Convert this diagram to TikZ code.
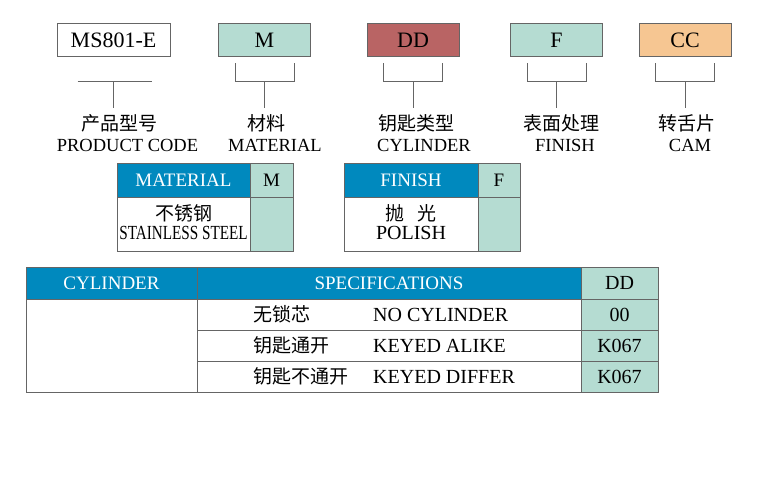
\documentclass[tikz,border=0pt]{standalone}
\usepackage{fontspec}
\setmainfont{Liberation Serif}
\newfontfamily\cjk{Noto Sans CJK SC}
\usetikzlibrary{positioning, calc}
\definecolor{hdblue}{HTML}{0089BE}
\definecolor{mint}{HTML}{B5DCD2}
\definecolor{rust}{HTML}{B96464}
\definecolor{peach}{HTML}{F6C692}
\definecolor{rule}{HTML}{656565}
\tikzset{
    %Define style for the code boxes
    codebox/.style={
           rectangle,
           draw=rule, line width=1pt,
           minimum width=92pt,
           minimum height=33pt,
           inner sep=0pt,
           font=\fontsize{22}{24}\selectfont},
    % Define bracket style
    brk/.style={
           draw=rule,
           line width=1pt},
    % Define label styles
    zhlabel/.style={
           font=\cjk\fontsize{19}{21}\selectfont,
           inner xsep=0pt, inner ysep=8pt,
           text height=14pt, text depth=0pt},
    enlabel/.style={
           font=\fontsize{18.5}{20}\selectfont,
           inner sep=0pt},
    % Define table styles
    cell/.style={
           rectangle,
           draw=rule, line width=1pt,
           inner sep=0pt, outer sep=0pt,
           font=\fontsize{19}{21}\selectfont},
    head/.style={
           cell,
           fill=hdblue,
           text=white},
    zhtext/.style={
           font=\cjk\fontsize{19}{21}\selectfont,
           inner sep=0pt,
           text height=14pt, text depth=0pt},
    entext/.style={
           font=\fontsize{20}{22}\selectfont,
           inner sep=0pt,
           text height=13.2pt, text depth=0pt}
}
\begin{document}
\begin{tikzpicture}[x=1pt, y=-1pt]
	\useasboundingbox (0,0) rectangle (778,500);
	%
	% code boxes
	%
	\node[codebox, minimum width=113pt, fill=white] (code) at (113.5,40.5) {MS801-E};
	\node[codebox, fill=mint] (mat) at (264.5,40.5) {M};
	\node[codebox, fill=rust] (cyl) at (413,40.5) {DD};
	\node[codebox, fill=mint] (fin) at (556.5,40.5) {F};
	\node[codebox, fill=peach] (cam) at (685,40.5) {CC};
	%
	% labels
	%
	\node[zhlabel] (code-zh) at (119,123) {产品型号};
	\node[enlabel] (code-en) at (127.5,145) {PRODUCT CODE};
	\node[zhlabel] (mat-zh) at (266,123) {材料};
	\node[enlabel] (mat-en) at (275,145) {MATERIAL};
	\node[zhlabel] (cyl-zh) at (416,123) {钥匙类型};
	\node[enlabel] (cyl-en) at (424,145) {CYLINDER};
	\node[zhlabel] (fin-zh) at (561,123) {表面处理};
	\node[enlabel] (fin-en) at (565,145) {FINISH};
	\node[zhlabel] (cam-zh) at (687,123) {转舌片};
	\node[enlabel] (cam-en) at (690,145) {CAM};
	%
	% brackets
	%
	\draw[brk] ([xshift=21pt,yshift=-24pt]code.south west) -- ([xshift=-19pt,yshift=-24pt]code.south east);
	\draw[brk] ([yshift=-24pt]code.south) -- (code.south |- code-zh.north);
	\foreach \b in {mat, cyl, fin, cam} {
		\draw[brk] ([xshift=17pt,yshift=-6pt]\b.south west) |- ([xshift=-17pt,yshift=-24pt]\b.south east) -- ([xshift=-17pt,yshift=-6pt]\b.south east);
		\draw[brk] ([yshift=-24pt]\b.south) -- (\b.south |- \b-zh.north);
	}
	%
	% material and finish tables
	%
	\node[head, minimum width=133pt, minimum height=34pt] (mathd) at (183.5,180) {MATERIAL};
	\node[cell, fill=mint, minimum width=43pt, minimum height=34pt, right=0pt of mathd] (matkey) {M};
	\node[cell, fill=white, minimum width=133pt, minimum height=54pt, below=0pt of mathd] (matbody) {};
	\node[cell, fill=mint, minimum width=43pt, minimum height=54pt, below=0pt of matkey] (matval) {};
	\node[zhtext] (matzh) at (183.5,213) {不锈钢};
	\node[entext] (maten) at (183.5,233) {\scalebox{0.76}[1]{STAINLESS STEEL}};
	%
	\node[head, minimum width=134pt, minimum height=34pt] (finhd) at (411,180) {FINISH};
	\node[cell, fill=mint, minimum width=42pt, minimum height=34pt, right=0pt of finhd] (finkey) {F};
	\node[cell, fill=white, minimum width=134pt, minimum height=54pt, below=0pt of finhd] (finbody) {};
	\node[cell, fill=mint, minimum width=42pt, minimum height=54pt, below=0pt of finkey] (finval) {};
	\node[zhtext] (finzh) at (411,213) {抛\hspace{0.65em}光};
	\node[entext] (finen) at (411,233) {POLISH};
	%
	% cylinder table
	%
	\node[head, minimum width=171pt, minimum height=32pt] (cylh) at (111.5,283) {CYLINDER};
	\node[head, minimum width=384pt, minimum height=32pt, right=0pt of cylh] (spech) {SPECIFICATIONS};
	\node[cell, fill=mint, minimum width=77pt, minimum height=32pt, right=0pt of spech, font=\fontsize{20}{22}\selectfont] (ddh) {DD};
	\node[cell, fill=white, minimum width=171pt, minimum height=93pt, below=0pt of cylh] (cylb) {};
	\foreach \i/\zh/\en/\val [remember=\i as \last (initially h)] in {1/无锁芯/NO CYLINDER/00, 2/钥匙通开/KEYED ALIKE/K067, 3/钥匙不通开/KEYED DIFFER/K067} {
		\node[cell, fill=white, minimum width=384pt, minimum height=31pt, below=0pt of spec\last] (spec\i) {};
		\node[cell, fill=mint, minimum width=77pt, minimum height=31pt, below=0pt of dd\last, font=\fontsize{20}{22}\selectfont] (dd\i) {\val};
		\node[zhtext, anchor=west] (zh\i) at ([xshift=56pt]spec\i.west) {\zh};
		\node[entext, anchor=west] (en\i) at ([xshift=176pt]spec\i.west) {\en};
	}
\end{tikzpicture}
\end{document}
